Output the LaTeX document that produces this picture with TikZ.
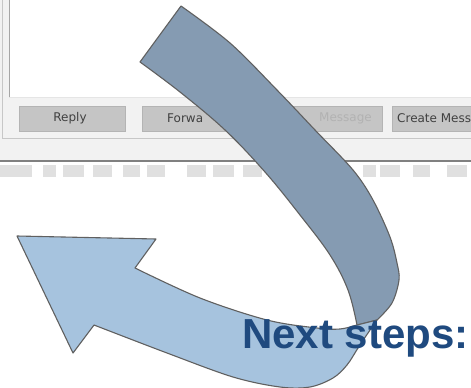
\documentclass[tikz,border=0pt]{standalone}
\usepackage{fontspec}
\setmainfont{Liberation Sans}
\newfontfamily\btnfont{DejaVu Sans}
\definecolor{winbg}{HTML}{F2F2F2}
\definecolor{btnfill}{HTML}{C5C5C5}
\definecolor{btnline}{HTML}{B4B4B4}
\definecolor{darkband}{HTML}{859BB2}
\definecolor{lightband}{HTML}{A6C3DE}
\definecolor{outline}{HTML}{606060}
\definecolor{titleblue}{HTML}{1F4A7F}
\definecolor{blurgray}{HTML}{E0E0E0}
\tikzset{
  btn/.style={fill=btnfill, draw=btnline, line width=0.6pt},
  btntext/.style={font=\btnfont\fontsize{12}{13}\selectfont, text=black!75, inner sep=0pt},
  arrowpart/.style={draw=outline, line width=1.1pt, line join=round},
  blur/.style={fill=blurgray, draw=none},
}
\begin{document}
\begin{tikzpicture}[x=1pt,y=-1pt]
\useasboundingbox (0,0) rectangle (471,388);
% window background
\fill[winbg] (0,0) rectangle (471,161);
\fill[white] (0,161) rectangle (471,388);
\draw[black!22, line width=0.8pt] (2,0) -- (2,138) -- (471,138);
\fill[white] (9,0) rectangle (471,97);
\draw[black!35, line width=1pt] (9,0) -- (9,97);
\draw[black!10, line width=0.8pt] (9,97) -- (471,97);
% buttons
\path[btn] (19,106) rectangle (125,131);
\path[btn] (142,106) rectangle (250,131);
\path[btn] (264,106) rectangle (382,131);
\path[btn] (392,106) rectangle (475,131);
\node[btntext] (reply) at (70,118.5) {Reply};
\node[btntext, anchor=west] (fwd) at (167,118.5) {Forwa};
\node[btntext, anchor=east, text=black!30] (msg) at (372,118.5) {Message};
\node[btntext, anchor=west] (create) at (397,118.5) {Create Mess};
% separator line and blurred strip
\draw[black!50, line width=1.3pt] (0,161) -- (471,161);
\foreach \a/\b in {0/32,43/56,63/84,93/112,123/140,147/165,187/206,213/234,243/262,363/376,380/400,413/430,447/467}
  \path[blur] (\a,165) rectangle (\b,177);
% dark band (tail)
\path[arrowpart, fill=darkband]
  plot[smooth, tension=0.55] coordinates {(181,6) (230,43) (277,90) (315,130) (353,170) (373,200) (390,237) (397,263) (399,280) (392,303) (377,320)}
  -- plot[smooth, tension=0.6] coordinates {(377,320) (357,325)}
  -- plot[smooth, tension=0.6] coordinates {(357,325) (348,290) (330,255) (300,215) (265,172) (225,130) (180,92) (140,62)}
  -- cycle;
% light band (head)
\path[arrowpart, fill=lightband]
  (135,268)
  -- plot[smooth, tension=0.55] coordinates {(135,268) (200,298) (267,320) (317,328) (340,329) (357,325) (377,320)}
  -- plot[smooth, tension=0.55] coordinates {(377,320) (368,333) (358,348) (347,365) (333,378) (310,387) (280,387) (233,377) (167,353) (94,325)}
  -- (73,353) -- (17,236) -- (156,239) -- cycle;
% title
\node[anchor=base west, inner sep=0pt, text=titleblue, font=\fontsize{42}{46}\selectfont\bfseries] (title) at (242,348) {Next steps:};
\end{tikzpicture}
\end{document}
